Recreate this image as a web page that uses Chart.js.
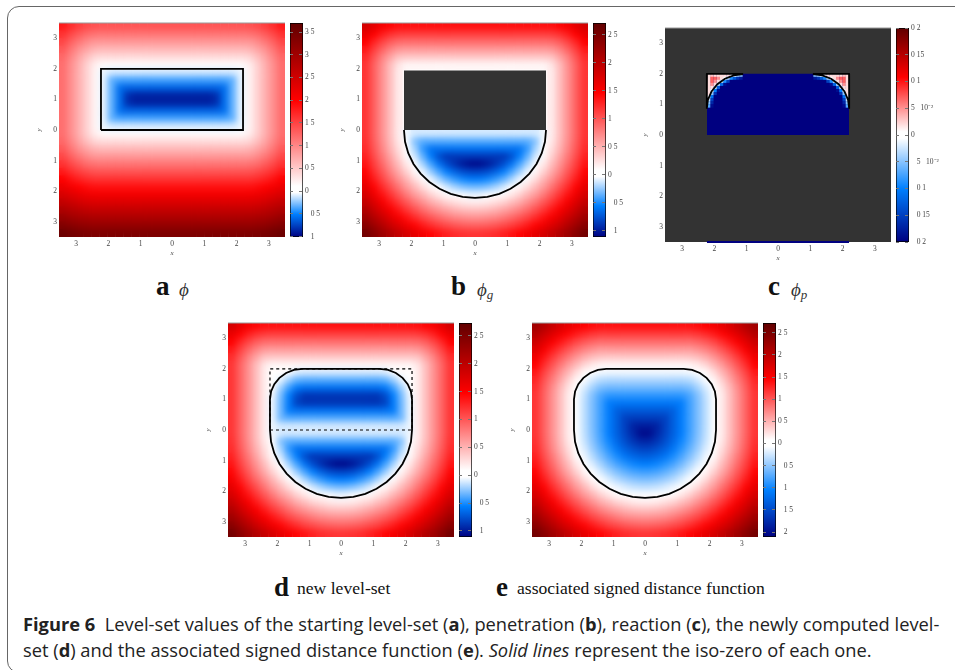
<!DOCTYPE html>
<html>
<head>
<meta charset="utf-8">
<script src="https://cdn.jsdelivr.net/npm/chart.js@4"></script>
<style>
html,body{margin:0;padding:0;background:#fff;width:955px;height:670px;overflow:hidden}
canvas{position:absolute}
#frame{position:absolute;left:7px;top:6px;width:970px;height:667px;border:1.5px solid #666;border-radius:12px;box-sizing:border-box}
.lab{position:absolute;white-space:nowrap;font-family:"Liberation Serif",serif;color:#111}
.lab b{font-size:27px;line-height:27px}
.sym{font-style:italic;font-size:19px;color:#333}
.sym sub{font-size:13px;vertical-align:-3px}
.txt{font-size:17.6px}
.cap{position:absolute;left:23px;white-space:nowrap;font-family:"Open Sans",sans-serif;font-size:18.3px;color:#222}
</style>
</head>
<body>
<div id="frame"></div>
<div class="lab" style="left:156px;top:273px"><b>a</b></div>
<div class="lab sym" style="left:179px;top:279px">ϕ</div>
<div class="lab" style="left:451px;top:273px"><b>b</b></div>
<div class="lab sym" style="left:477px;top:279px">ϕ<sub>g</sub></div>
<div class="lab" style="left:768px;top:273px"><b>c</b></div>
<div class="lab sym" style="left:791px;top:279px">ϕ<sub>p</sub></div>
<div class="lab" style="left:274px;top:574px"><b>d</b></div>
<div class="lab txt" style="left:297px;top:578px">new level-set</div>
<div class="lab" style="left:496px;top:574px"><b>e</b></div>
<div class="lab txt" style="left:517px;top:578px">associated signed distance function</div>
<div class="cap" style="top:611px"><b>Figure 6</b>&nbsp; Level-set values of the starting level-set (<b>a</b>), penetration (<b>b</b>), reaction (<b>c</b>), the newly computed level-</div>
<div class="cap" style="top:637px">set (<b>d</b>) and the associated signed distance function (<b>e</b>). <i>Solid lines</i> represent the iso-zero of each one.</div>

<script>
// cell centres, only x>0 is listed because the panels are symmetric in x
const cols = [.125,.375,.625,.875,1.125,1.375,1.625,1.875,2.125,2.375,2.625,2.875,3.125,3.375];
const rowsY = [3.375,3.125,2.875,2.625,2.375,2.125,1.875,1.625,1.375,1.125,.875,.625,.375,.125,
  -.125,-.375,-.625,-.875,-1.125,-1.375,-1.625,-1.875,-2.125,-2.375,-2.625,-2.875,-3.125,-3.375];

// values, rows from top to bottom
const topRows = [
  [1.38,1.38,1.38,1.38,1.38,1.38,1.38,1.38,1.38,1.39,1.44,1.53,1.66,1.81],
  [1.13,1.13,1.13,1.13,1.13,1.13,1.13,1.13,1.13,1.14,1.2,1.31,1.46,1.63],
  [.88,.88,.88,.88,.88,.88,.88,.88,.88,.89,.97,1.1,1.27,1.47],
  [.63,.63,.63,.63,.63,.63,.63,.63,.63,.65,.76,.92,1.12,1.33],
  [.38,.38,.38,.38,.38,.38,.38,.38,.38,.41,.57,.77,1,1.23],
  [.13,.13,.13,.13,.13,.13,.13,.13,.13,.22,.44,.69,.93,1.18]
];
const midA = [
  [-.12,-.12,-.12,-.12,-.12,-.12,-.12,-.12,-.08,.18,.43,.68,.93,1.18],
  [-.38,-.38,-.38,-.38,-.38,-.38,-.38,-.33,-.08,.18,.43,.68,.93,1.18],
  [-.62,-.62,-.62,-.62,-.62,-.62,-.58,-.33,-.08,.18,.43,.68,.93,1.18],
  [-.88,-.88,-.88,-.88,-.88,-.83,-.58,-.33,-.08,.18,.43,.68,.93,1.18],
  [-.88,-.88,-.88,-.88,-.88,-.83,-.58,-.33,-.08,.18,.43,.68,.93,1.18],
  [-.62,-.62,-.62,-.62,-.62,-.62,-.58,-.33,-.08,.18,.43,.68,.93,1.18],
  [-.38,-.38,-.38,-.38,-.38,-.38,-.38,-.33,-.08,.18,.43,.68,.93,1.18],
  [-.12,-.12,-.12,-.12,-.12,-.12,-.12,-.12,-.08,.18,.43,.68,.93,1.18]
];
const lowerA = [
  [.13,.13,.13,.13,.13,.13,.13,.13,.13,.22,.44,.69,.93,1.18],
  [.38,.38,.38,.38,.38,.38,.38,.38,.38,.41,.57,.77,1,1.23],
  [.63,.63,.63,.63,.63,.63,.63,.63,.63,.65,.76,.92,1.12,1.33],
  [.88,.88,.88,.88,.88,.88,.88,.88,.88,.89,.97,1.1,1.27,1.47],
  [1.13,1.13,1.13,1.13,1.13,1.13,1.13,1.13,1.13,1.14,1.2,1.31,1.46,1.63],
  [1.38,1.38,1.38,1.38,1.38,1.38,1.38,1.38,1.38,1.39,1.44,1.53,1.66,1.81],
  [1.63,1.63,1.63,1.63,1.63,1.63,1.63,1.63,1.63,1.63,1.68,1.76,1.87,2.01],
  [1.88,1.88,1.88,1.88,1.88,1.88,1.88,1.88,1.88,1.88,1.92,1.99,2.09,2.21],
  [2.13,2.13,2.13,2.13,2.13,2.13,2.13,2.13,2.13,2.13,2.17,2.23,2.32,2.43],
  [2.38,2.38,2.38,2.38,2.38,2.38,2.38,2.38,2.38,2.38,2.41,2.47,2.55,2.65],
  [2.63,2.63,2.63,2.63,2.63,2.63,2.63,2.63,2.63,2.63,2.66,2.71,2.78,2.88],
  [2.88,2.88,2.88,2.88,2.88,2.88,2.88,2.88,2.88,2.88,2.91,2.95,3.02,3.11],
  [3.13,3.13,3.13,3.13,3.13,3.13,3.13,3.13,3.13,3.13,3.15,3.2,3.26,3.34],
  [3.38,3.38,3.38,3.38,3.38,3.38,3.38,3.38,3.38,3.38,3.4,3.44,3.5,3.57]
];
// b : the rectangle part has no value (dark)
const _ = null;
const midB = [
  [_,_,_,_,_,_,_,_,_,.18,.43,.68,.93,1.18],
  [_,_,_,_,_,_,_,_,_,.18,.43,.68,.93,1.18],
  [_,_,_,_,_,_,_,_,_,.18,.43,.68,.93,1.18],
  [_,_,_,_,_,_,_,_,_,.18,.43,.68,.93,1.18],
  [_,_,_,_,_,_,_,_,_,.18,.43,.68,.93,1.18],
  [_,_,_,_,_,_,_,_,_,.18,.43,.68,.93,1.18],
  [_,_,_,_,_,_,_,_,_,.18,.43,.68,.93,1.18],
  [_,_,_,_,_,_,_,_,_,.18,.43,.68,.93,1.18]
];
const midD = [
  [-.12,-.12,-.12,-.12,-.12,-.11,-.03,.1,.07,.18,.43,.68,.93,1.18],
  [-.38,-.38,-.38,-.38,-.38,-.35,-.24,-.08,.07,.18,.43,.68,.93,1.18],
  [-.62,-.62,-.62,-.62,-.62,-.58,-.43,-.23,-.01,.18,.43,.68,.93,1.18],
  [-.88,-.88,-.88,-.88,-.88,-.78,-.56,-.31,-.07,.18,.43,.68,.93,1.18],
  [-.88,-.88,-.88,-.88,-.88,-.83,-.58,-.33,-.08,.18,.43,.68,.93,1.18],
  [-.62,-.62,-.62,-.62,-.62,-.62,-.58,-.33,-.08,.18,.43,.68,.93,1.18],
  [-.38,-.38,-.38,-.38,-.38,-.38,-.38,-.33,-.08,.18,.43,.68,.93,1.18],
  [-.12,-.12,-.12,-.12,-.12,-.12,-.12,-.12,-.08,.18,.43,.68,.93,1.18]
];
const nearBD = [
  [-.12,-.12,-.12,-.12,-.12,-.12,-.12,-.12,-.07,.18,.43,.68,.93,1.18],
  [-.38,-.38,-.38,-.38,-.38,-.38,-.38,-.29,-.04,.2,.45,.7,.95,1.2],
  [-.62,-.62,-.62,-.62,-.62,-.62,-.46,-.22,.02,.26,.5,.74,.99,1.23],
  [-.88,-.88,-.88,-.88,-.78,-.57,-.36,-.13,.1,.33,.57,.81,1.05,1.29]
];
const arcRows = [
  [-1.07,-1.01,-.91,-.78,-.61,-.42,-.22,-.01,.2,.43,.66,.89,1.12,1.36],
  [-.82,-.78,-.69,-.57,-.42,-.25,-.07,.12,.33,.54,.76,.99,1.21,1.44],
  [-.57,-.53,-.46,-.36,-.22,-.07,.1,.28,.48,.68,.89,1.1,1.32,1.55],
  [-.32,-.29,-.22,-.13,-.01,.12,.28,.45,.63,.83,1.03,1.23,1.44,1.66],
  [-.07,-.04,.02,.1,.2,.33,.48,.63,.81,.99,1.18,1.37,1.58,1.79],
  [.18,.2,.26,.33,.43,.54,.68,.83,.99,1.16,1.34,1.53,1.73,1.93],
  [.43,.45,.5,.57,.66,.76,.89,1.03,1.18,1.34,1.51,1.69,1.88,2.08],
  [.68,.7,.74,.81,.89,.99,1.1,1.23,1.37,1.53,1.69,1.87,2.05,2.23],
  [.93,.95,.99,1.05,1.12,1.21,1.32,1.44,1.58,1.73,1.88,2.05,2.22,2.4],
  [1.18,1.2,1.23,1.29,1.36,1.44,1.55,1.66,1.79,1.93,2.08,2.23,2.4,2.57]
];
const rowsE = [
  [1.38,1.38,1.38,1.38,1.38,1.38,1.41,1.47,1.55,1.65,1.77,1.91,2.06,2.22],
  [1.13,1.13,1.13,1.13,1.13,1.13,1.17,1.23,1.32,1.43,1.56,1.71,1.87,2.04],
  [.88,.88,.88,.88,.88,.88,.92,.99,1.09,1.21,1.36,1.51,1.69,1.87],
  [.63,.63,.63,.63,.63,.63,.68,.76,.87,1.01,1.16,1.33,1.52,1.72],
  [.38,.38,.38,.38,.38,.39,.44,.53,.66,.81,.98,1.16,1.36,1.57],
  [.13,.13,.13,.13,.13,.14,.2,.31,.46,.63,.82,1.02,1.23,1.45],
  [-.12,-.12,-.12,-.12,-.12,-.11,-.03,.1,.27,.47,.67,.89,1.11,1.34],
  [-.38,-.38,-.38,-.38,-.38,-.35,-.24,-.08,.12,.33,.56,.79,1.02,1.26],
  [-.62,-.62,-.62,-.62,-.62,-.58,-.43,-.23,0,.23,.47,.72,.96,1.21],
  [-.88,-.88,-.88,-.88,-.88,-.78,-.56,-.31,-.07,.18,.43,.68,.93,1.18],
  [-1.12,-1.12,-1.12,-1.12,-1.08,-.83,-.58,-.33,-.08,.18,.43,.68,.93,1.18],
  [-1.38,-1.38,-1.38,-1.33,-1.08,-.83,-.58,-.33,-.08,.18,.43,.68,.93,1.18],
  [-1.62,-1.62,-1.58,-1.33,-1.08,-.83,-.58,-.33,-.08,.18,.43,.68,.93,1.18],
  [-1.88,-1.83,-1.58,-1.33,-1.08,-.83,-.58,-.33,-.08,.18,.43,.68,.93,1.18],
  [-2.02,-1.8,-1.56,-1.32,-1.07,-.82,-.57,-.32,-.07,.18,.43,.68,.93,1.18],
  [-1.8,-1.67,-1.47,-1.25,-1.01,-.78,-.53,-.29,-.04,.2,.45,.7,.95,1.2],
  [-1.56,-1.47,-1.32,-1.13,-.91,-.69,-.46,-.22,.02,.26,.5,.74,.99,1.23],
  [-1.32,-1.25,-1.13,-.96,-.78,-.57,-.36,-.13,.1,.33,.57,.81,1.05,1.29]
];
// c : only the upper corners carry anything, on a finer grid
const cornerCols = [1.15,1.25,1.35,1.45,1.55,1.65,1.75,1.85,1.95,2.05,2.15];
const cornerY = [1.95,1.85,1.75,1.65,1.55,1.45,1.35,1.25,1.15,1.05,.95];
const cornerRows = [
  [-.05,-.04,-.01,.01,.02,.02,.02,.02,.02,.03,.02],
  [-.18,-.16,-.13,-.09,-.04,0,.02,.05,.07,.07,.02],
  [-.2,-.2,-.2,-.2,-.15,-.09,-.03,.02,.05,.07,.02],
  [-.2,-.2,-.2,-.2,-.2,-.19,-.12,-.04,.02,.05,.02],
  [-.2,-.2,-.2,-.2,-.2,-.2,-.2,-.13,-.03,.02,.02],
  [-.2,-.2,-.2,-.2,-.2,-.2,-.2,-.19,-.1,0,.02],
  [-.2,-.2,-.2,-.2,-.2,-.2,-.2,-.2,-.16,-.05,.02],
  [-.2,-.2,-.2,-.2,-.2,-.2,-.2,-.2,-.2,-.11,0],
  [-.2,-.2,-.2,-.2,-.2,-.2,-.2,-.2,-.2,-.15,-.03],
  [-.2,-.2,-.2,-.2,-.2,-.2,-.2,-.2,-.2,-.17,-.05],
  [-.2,-.2,-.2,-.2,-.2,-.2,-.2,-.2,-.2,-.19,-.07]
];

// iso-zero lines
const rectX = [-2.2,2.2,2.2,-2.2,-2.2];
const rectY = [0,0,2,2,0];
const outlineX = [0,1.2,1.459,1.7,1.907,2.066,2.166,2.2,2.2,2.167,2.067,1.905,1.685,1.414,1.1,.752,.382,0];
const outlineY = [2,2,1.966,1.866,1.707,1.5,1.259,1,0,-.386,-.759,-1.11,-1.427,-1.7,-1.923,-2.086,-2.186,-2.22];
const cornerX = [1.08,2.2,2.2,2.21,2.171,2.059,1.879,1.645,1.372,1.08];
const cornerLineY = [2,2,.86,.86,1.152,1.425,1.659,1.839,1.951,1.99];

// axes
const axisTicks = [-3,-2,-1,0,1,2,3];
const xLabels = ['\u00a03','\u00a02','\u00a01','0','1','2','3'];
const yLabels = ['3','2','1','0','1','2','3'];
const barTicksA = [3.5,3,2.5,2,1.5,1,.5,0,-.5,-1];
const barLabelsA = ['3 5','3','2 5','2','1 5','1','0 5','0','\u00a0\u00a0\u00a00 5','\u00a0\u00a0\u00a01'];
const barTicksB = [2.5,2,1.5,1,.5,0,-.5,-1];
const barLabelsB = ['2 5','2','1 5','1','0 5','0','\u00a0\u00a0\u00a00 5','\u00a0\u00a0\u00a01'];
const barTicksC = [.2,.15,.1,.05,0,-.05,-.1,-.15,-.2];
const barLabelsC = ['0 2','0 15','0 1','5\u00a0\u00a0\u00a010\u207b\u00b2','0','\u00a0\u00a0\u00a05\u00a0\u00a0\u00a010\u207b\u00b2','\u00a0\u00a0\u00a00 1','\u00a0\u00a0\u00a00 15','\u00a0\u00a0\u00a00 2'];
const barTicksE = [2.5,2,1.5,1,.5,0,-.5,-1,-1.5,-2];
const barLabelsE = ['2 5','2','1 5','1','0 5','0','\u00a0\u00a0\u00a00 5','\u00a0\u00a0\u00a01','\u00a0\u00a0\u00a01 5','\u00a0\u00a0\u00a02'];

// colour map : white at 0, red then dark red above, blue then navy below
const posStops = [[0,[255,255,255]],[.03,[255,255,255]],[.54,[255,0,0]],[1,[96,0,0]]];
const negStops = [[0,[255,255,255]],[.03,[255,255,255]],[.5,[0,128,255]],[.75,[0,64,192]],[1,[0,0,128]]];

function couleur(v,min,max){
  const stops = v>=0 ? posStops : negStops;
  const t = Math.min(1, v>=0 ? v/max : v/min);
  for(let i=1;i<stops.length;i++){
    if(t<=stops[i][0]){
      const a=stops[i-1], b=stops[i];
      const k=(t-a[0])/(b[0]-a[0]);
      const c=a[1].map((q,n)=>Math.round(q+(b[1][n]-q)*k));
      return `rgb(${c[0]},${c[1]},${c[2]})`;
    }
  }
  return 'rgb(0,0,0)';
}

function pts(xs,ys,sign){
  return xs.map((x,i)=>({x:x*(sign||1),y:ys[i]}));
}
// both halves of a line symmetric in x
function closed(xs,ys){
  return pts(xs,ys).concat(pts(xs,ys,-1).reverse());
}
function cellData(xs,ys,rows){
  const out=[];
  rows.forEach((row,i)=>{
    row.forEach((v,j)=>{
      if(v===null) return;
      out.push({x:xs[j],y:ys[i],v:v});
      out.push({x:-xs[j],y:ys[i],v:v});
    });
  });
  return out;
}
function ligne(data,extra){
  return Object.assign({type:'scatter',data:data,showLine:true,pointRadius:0,borderColor:'#000',borderWidth:1.8,fill:false,clip:false},extra||{});
}

const FONT = {family:'"Liberation Serif",serif',size:7.5};

function panneau(box,min,max,cells,radius,lines,under,back,flou){
  const c=document.createElement('canvas');
  c.width=box.w+32; c.height=box.h+28;
  c.style.left=(box.x-24)+'px'; c.style.top=(box.y-8)+'px';
  document.body.appendChild(c);
  const fond={id:'fond',beforeDraw(ch){
    const a=ch.chartArea;
    if(back){ ch.ctx.fillStyle=back; ch.ctx.fillRect(a.left,a.top,a.width,a.height); }
  },afterDatasetDraw(ch,args){
    // the cells are coarser than the bands of the picture : soften them before the lines come
    if(!flou || args.index!==lines.length) return;
    const a=ch.chartArea;
    const off=document.createElement('canvas');
    off.width=a.width; off.height=a.height;
    off.getContext('2d').drawImage(ch.canvas,a.left,a.top,a.width,a.height,0,0,a.width,a.height);
    ch.ctx.save();
    ch.ctx.beginPath(); ch.ctx.rect(a.left,a.top,a.width,a.height); ch.ctx.clip();
    ch.ctx.filter=`blur(${flou}px)`;
    ch.ctx.drawImage(off,a.left,a.top);
    ch.ctx.restore();
  },afterDraw(ch){
    const a=ch.chartArea;
    ch.ctx.strokeStyle='#999'; ch.ctx.lineWidth=1;
    ch.ctx.beginPath(); ch.ctx.moveTo(a.left,a.top); ch.ctx.lineTo(a.right,a.top); ch.ctx.stroke();
  }};
  new Chart(c,{
    type:'scatter',
    data:{datasets:lines.concat([{
      data:cells,pointStyle:'rect',pointRadius:radius,pointBorderWidth:0,clip:0,
      backgroundColor:ctx=>couleur(ctx.raw.v,min,max)
    }]).concat(under||[])},
    plugins:[fond],
    options:{
      responsive:false,animation:false,devicePixelRatio:1,
      layout:{autoPadding:false,padding:{top:8,right:8}},
      plugins:{legend:{display:false},tooltip:{enabled:false}},
      scales:{
        x:{type:'linear',min:-3.5,max:3.5,grid:{display:false,drawTicks:false},border:{display:false},
          afterBuildTicks:a=>{a.ticks=axisTicks.map(v=>({value:v}));},
          afterFit:a=>{a.height=20;},
          ticks:{font:FONT,color:'#444',padding:3,maxRotation:0,autoSkip:false,callback:(v,i)=>xLabels[i]},
          title:{display:true,text:'x',font:{family:FONT.family,size:7,style:'italic'},color:'#444',padding:0}},
        y:{type:'linear',min:-3.5,max:3.5,grid:{display:false,drawTicks:false},border:{display:false},
          afterBuildTicks:a=>{a.ticks=axisTicks.map(v=>({value:v}));},
          afterFit:a=>{a.width=24;},
          ticks:{font:FONT,color:'#444',padding:2,autoSkip:false,callback:(v,i)=>yLabels[i]},
          title:{display:true,text:'y',font:{family:FONT.family,size:7,style:'italic'},color:'#444',padding:0}}
      }
    }
  });
}

function barre(x,y,h,min,max,ticks,labels){
  const c=document.createElement('canvas');
  c.width=62; c.height=h+16;
  c.style.left=(x-1)+'px'; c.style.top=(y-8)+'px';
  document.body.appendChild(c);
  new Chart(c,{
    type:'bar',
    data:{labels:[''],datasets:[{
      data:[[min,max]],barPercentage:1,categoryPercentage:1,
      borderColor:'#000',borderWidth:1,borderSkipped:false,
      backgroundColor:ctx=>{
        const s=ctx.chart.scales.y;
        if(!s||!ctx.chart.chartArea) return '#fff';
        const g=ctx.chart.ctx.createLinearGradient(0,s.getPixelForValue(min),0,s.getPixelForValue(max));
        const span=max-min;
        negStops.slice().reverse().forEach(p=>g.addColorStop((p[0]*min-min)/span,`rgb(${p[1]})`));
        posStops.forEach(p=>g.addColorStop((p[0]*max-min)/span,`rgb(${p[1]})`));
        return g;
      }
    }]},
    options:{
      responsive:false,animation:false,devicePixelRatio:1,
      layout:{autoPadding:false,padding:{top:8,bottom:8,left:1}},
      plugins:{legend:{display:false},tooltip:{enabled:false}},
      scales:{
        x:{display:false},
        y:{type:'linear',position:'right',min:min,max:max,
          grid:{z:1,color:'#777',drawTicks:false},border:{display:false,dash:[3,6]},
          afterBuildTicks:a=>{a.ticks=ticks.map(v=>({value:v}));},
          afterFit:a=>{a.width=48;},
          ticks:{font:FONT,color:'#444',padding:2,autoSkip:false,callback:(v,i)=>labels[i]}}
      }
    }
  });
}

const W=226, H=214;
const phiA=[...topRows,...midA,...lowerA];
const phiB=[...topRows,...midB,...nearBD,...arcRows];
const phiD=[...topRows,...midD,...nearBD,...arcRows];
const phiE=[...rowsE,...arcRows];

// a
panneau({x:59,y:23,w:W,h:H},-1.01,3.7,cellData(cols,rowsY,phiA),5.9,[ligne(pts(rectX,rectY))],null,null,3);
barre(290,23,H,-1.01,3.7,barTicksA,barLabelsA);

// b
panneau({x:362,y:23,w:W,h:H},-1.115,2.71,cellData(cols,rowsY,phiB),5.9,
  [ligne(closed(outlineX.slice(8),outlineY.slice(8))),
   ligne(pts([-2.2,2.2],[0,0]),{fill:{value:1.95},backgroundColor:'#333',borderWidth:0})],null,null,3);
barre(593,23,H,-1.115,2.71,barTicksB,barLabelsB);

// c
panneau({x:665,y:28,w:W,h:H},-.2,.2,cellData(cornerCols,cornerY,cornerRows),2.4,
  [ligne(pts(cornerX,cornerLineY)),ligne(pts(cornerX,cornerLineY,-1))],
  [ligne(pts([-2.2,2.2],[0,0]),{fill:{value:2},backgroundColor:'#000080',borderWidth:0}),
   ligne(pts([-2.2,2.2],[-3.5,-3.5]),{borderColor:'#000080',borderWidth:2})],'#333',0);
barre(896,28,H,-.2,.2,barTicksC,barLabelsC);

// d
panneau({x:228,y:323,w:W,h:H},-1.11,2.73,cellData(cols,rowsY,phiD),5.9,
  [ligne(closed(outlineX,outlineY)),ligne(pts(rectX,rectY),{borderDash:[3,3],borderWidth:1.2})],null,null,3);
barre(459,323,H,-1.11,2.73,barTicksB,barLabelsB);

// e
panneau({x:532,y:323,w:W,h:H},-2.11,2.72,cellData(cols,rowsY,phiE),5.9,
  [ligne(closed(outlineX,outlineY))],null,null,3);
barre(763,323,H,-2.11,2.72,barTicksE,barLabelsE);
</script>
</body>
</html>
